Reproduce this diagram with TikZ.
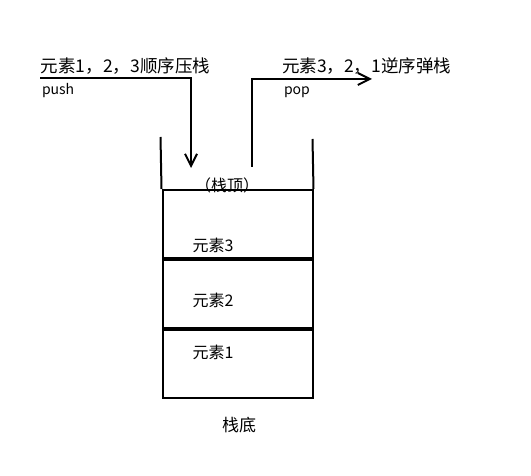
\documentclass[tikz,border=0pt]{standalone}
\usepackage{fontspec}
\setmainfont{Noto Sans CJK SC}
\usetikzlibrary{arrows.meta}

\begin{document}
\begin{tikzpicture}[x=1pt,y=-1pt,>={Straight Barb[length=12pt,width=12pt]},line width=2pt,
  cell/.style={draw,minimum width=150pt,minimum height=68pt,inner sep=0pt},
  lbl/.style={inner sep=0pt,font=\fontsize{16}{18}\selectfont}]
\useasboundingbox (0,0) rectangle (531,476);
% stack cells
\node[cell] (top) at (237.5,224) {};
\node[cell] (mid) at (237.5,294.5) {};
\node[cell] (bot) at (237.5,364) {};
% walls
\coordinate (lw) at (160.5,137);
\coordinate (rw) at (312.5,139);
\draw (lw) -- (top.north west);
\draw (rw) -- (top.north east);
% push and pop
\coordinate (pushstart) at (40,78);
\coordinate (pushend) at (191,168);
\coordinate (popstart) at (251.5,167);
\coordinate (popend) at (372,79);
\draw[->] (pushstart) -| (pushend);
\draw[->] (popstart) |- (popend);
\node[anchor=west,inner sep=0pt,font=\fontsize{17.5}{20}\selectfont] (pushtxt) at (40,66) {元素1，2，3顺序压栈};
\node[anchor=west,inner sep=0pt,font=\fontsize{17.5}{20}\selectfont] (poptxt) at (281,66) {元素3，2，1逆序弹栈};
\node[anchor=base west,inner sep=0pt,font=\fontsize{14}{16}\selectfont] (pushlbl) at (41,95) {push};
\node[anchor=base west,inner sep=0pt,font=\fontsize{14}{16}\selectfont] (poplbl) at (283,95) {pop};
% labels
\node[lbl] (toplbl) at (227,185) {（栈顶）};
\node[lbl] (e3) at (213,245) {元素3};
\node[lbl] (e2) at (213,300) {元素2};
\node[lbl] (e1) at (213,352) {元素1};
\node[lbl,font=\fontsize{17}{19}\selectfont] (base) at (239,425) {栈底};
\end{tikzpicture}
\end{document}
